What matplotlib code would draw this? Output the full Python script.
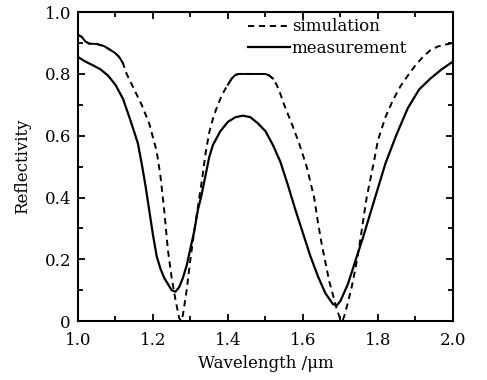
import matplotlib
matplotlib.use('Agg')
import matplotlib.pyplot as plt
from matplotlib.ticker import MultipleLocator, FixedLocator

# === Daten ===
sim_x = [1.00, 1.01, 1.02, 1.03, 1.05, 1.07, 1.09, 1.10, 1.11, 1.12, 1.13, 1.15, 1.17,
         1.19, 1.21, 1.22, 1.23, 1.24, 1.25, 1.26, 1.27, 1.275, 1.28, 1.29, 1.30, 1.31,
         1.32, 1.33, 1.34, 1.35, 1.36, 1.37, 1.38, 1.39, 1.40, 1.41, 1.42, 1.43, 1.50,
         1.51, 1.52, 1.53, 1.54, 1.55, 1.57, 1.59, 1.61, 1.62, 1.63, 1.64, 1.65, 1.66,
         1.67, 1.68, 1.69, 1.70, 1.705, 1.71, 1.72, 1.73, 1.74, 1.75, 1.76, 1.77, 1.78,
         1.79, 1.80, 1.82, 1.84, 1.86, 1.88, 1.90, 1.92, 1.94, 1.96, 1.98, 2.00]
sim_y = [0.927, 0.92, 0.905, 0.898, 0.897, 0.89, 0.875, 0.867, 0.855, 0.835, 0.80, 0.75, 0.70,
         0.64, 0.55, 0.47, 0.36, 0.23, 0.14, 0.07, 0.01, 0.0, 0.02, 0.10, 0.20, 0.29,
         0.37, 0.45, 0.54, 0.61, 0.655, 0.69, 0.72, 0.745, 0.765, 0.785, 0.797, 0.80, 0.80,
         0.795, 0.785, 0.765, 0.735, 0.70, 0.64, 0.575, 0.50, 0.45, 0.40, 0.32, 0.25, 0.19,
         0.13, 0.085, 0.04, 0.005, 0.0, 0.015, 0.06, 0.11, 0.17, 0.24, 0.32, 0.40, 0.46,
         0.52, 0.585, 0.66, 0.715, 0.76, 0.795, 0.828, 0.855, 0.877, 0.889, 0.895, 0.90]

mess_x = [1.00, 1.02, 1.04, 1.06, 1.08, 1.10, 1.12, 1.14, 1.16, 1.17, 1.18, 1.19, 1.20,
          1.21, 1.22, 1.23, 1.24, 1.25, 1.26, 1.27, 1.28, 1.29, 1.30, 1.31, 1.32, 1.33,
          1.34, 1.35, 1.36, 1.38, 1.40, 1.42, 1.44, 1.46, 1.48, 1.50, 1.52, 1.54, 1.56,
          1.58, 1.60, 1.62, 1.64, 1.66, 1.68, 1.69, 1.70, 1.72, 1.74, 1.76, 1.78, 1.80,
          1.82, 1.85, 1.88, 1.91, 1.94, 1.97, 2.00]
mess_y = [0.855, 0.84, 0.828, 0.815, 0.795, 0.765, 0.72, 0.65, 0.575, 0.51, 0.44, 0.36, 0.28,
          0.21, 0.17, 0.14, 0.12, 0.10, 0.095, 0.11, 0.14, 0.18, 0.235, 0.29, 0.36, 0.41,
          0.47, 0.53, 0.57, 0.615, 0.645, 0.66, 0.665, 0.66, 0.64, 0.615, 0.57, 0.515, 0.44,
          0.36, 0.285, 0.21, 0.145, 0.09, 0.055, 0.05, 0.065, 0.12, 0.195, 0.27, 0.35, 0.43,
          0.51, 0.605, 0.69, 0.75, 0.785, 0.815, 0.84]

x_ticks = [1.0, 1.2, 1.4, 1.6, 1.8, 2.0]
x_labels = ['1.0', '1.2', '1.4', '1.6', '1.8', '2.0']
y_ticks = [0, 0.2, 0.4, 0.6, 0.8, 1.0]
y_labels = ['0', '0.2', '0.4', '0.6', '0.8', '1.0']

# === Grafik ===
plt.rcParams['font.family'] = ['DejaVu Serif']
plt.rcParams['font.size'] = 12

fig = plt.figure(figsize=(4.87, 3.80), dpi=100)
ax = fig.add_axes([0.160, 0.155, 0.770, 0.813])

ax.plot(sim_x, sim_y, color='black', lw=1.4, linestyle=(0, (3.2, 2.4)), label='simulation')
ax.plot(mess_x, mess_y, color='black', lw=1.6, label='measurement')

# flache Stellen der Simulation wirken im Original durchgezogen
flach = [(0, 10), (34, 41)]
for a, b in flach:
    ax.plot(sim_x[a:b], sim_y[a:b], color='black', lw=1.4)

ax.set_xlim(1.0, 2.0)
ax.set_ylim(0, 1.0)
ax.xaxis.set_major_locator(FixedLocator(x_ticks))
ax.set_xticklabels(x_labels)
ax.yaxis.set_major_locator(FixedLocator(y_ticks))
ax.set_yticklabels(y_labels)
ax.xaxis.set_minor_locator(MultipleLocator(0.1))
ax.yaxis.set_minor_locator(MultipleLocator(0.1))
ax.tick_params(which='both', direction='in', top=True, right=True, width=1.3)
ax.tick_params(which='major', length=5)
ax.tick_params(which='minor', length=3.5)
ax.tick_params(axis='x', which='major', pad=8)
ax.tick_params(axis='y', which='major', pad=5)
for s in ax.spines.values():
    s.set_linewidth(1.5)

ax.set_xlabel('Wavelength /μm', labelpad=4)
ax.set_ylabel('Reflectivity', labelpad=10)

ax.legend(loc='upper left', bbox_to_anchor=(0.45, 0.985), frameon=False,
          borderpad=0.1, borderaxespad=0, handlelength=2.5, handletextpad=0.1,
          labelspacing=0.25)

fig.savefig('out.png', dpi=100)
